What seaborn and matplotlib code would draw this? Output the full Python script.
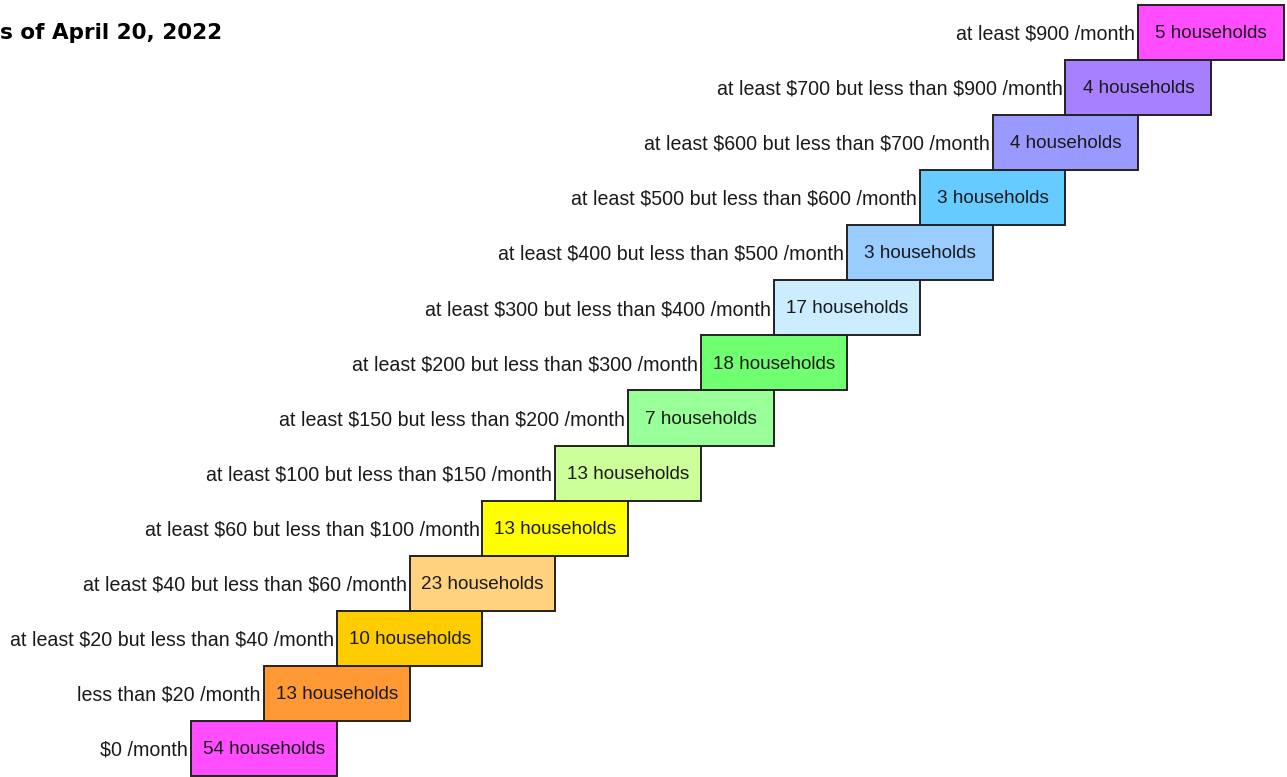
import numpy as np
import pandas as pd
import matplotlib
matplotlib.use("Agg")
import matplotlib.pyplot as plt
import seaborn as sns

# Monthly amount brackets, lowest first (bottom step of the staircase)
brackets = [
    '$0 /month',
    'less than $20 /month',
    'at least $20 but less than $40 /month',
    'at least $40 but less than $60 /month',
    'at least $60 but less than $100 /month',
    'at least $100 but less than $150 /month',
    'at least $150 but less than $200 /month',
    'at least $200 but less than $300 /month',
    'at least $300 but less than $400 /month',
    'at least $400 but less than $500 /month',
    'at least $500 but less than $600 /month',
    'at least $600 but less than $700 /month',
    'at least $700 but less than $900 /month',
    'at least $900 /month',
]
households = [54, 13, 10, 23, 13, 13, 7, 18, 17, 3, 3, 4, 4, 5]
box_colors = [
    '#FF4DFF', '#FF9933', '#FFCC00', '#FFD280', '#FFFF00', '#CCFF99', '#99FF99',
    '#70FF70', '#CCECFF', '#99CCFF', '#66CCFF', '#9999FF', '#A680FF', '#FF4DFF',
]
title_text = 's of April 20, 2022'

df = pd.DataFrame({'bracket': brackets, 'households': households})
df['step'] = np.arange(len(df))      # each bracket steps one unit to the right
df['span'] = 2.0                     # each box covers two steps

sns.set_style('white')
plt.rcParams['font.family'] = ['Liberation Sans', 'DejaVu Sans']
plt.rcParams['text.parse_math'] = False

fig = plt.figure(figsize=(12.87, 7.77), dpi=100)
ax = fig.add_axes([0, 0, 1, 1])

sns.barplot(data=df, x='span', y='bracket', orient='h', width=1.0,
            left=df['step'].values, color='white',
            edgecolor='#222222', linewidth=1.4, ax=ax)

for patch, c in zip(ax.patches, box_colors):
    patch.set_facecolor(c)

for i, row in df.iterrows():
    ax.text(row['step'] + 1.0, i - 0.02, f"{row['households']} households",
            ha='center', va='center', fontsize=13.6, color='#1a1a1a')
    ax.text(row['step'] - 0.04, i - 0.03, row['bracket'],
            ha='right', va='center', fontsize=14.1, color='#1a1a1a')

ax.set_xlim(-2.621, 15.04)
ax.set_ylim(-0.518, 13.59)
ax.axis('off')

fig.text(0.0, 0.958, title_text, ha='left', va='center',
         fontsize=15.5, fontweight='bold', color='black', family='DejaVu Sans')

fig.savefig('out.png', dpi=100, facecolor='white')
